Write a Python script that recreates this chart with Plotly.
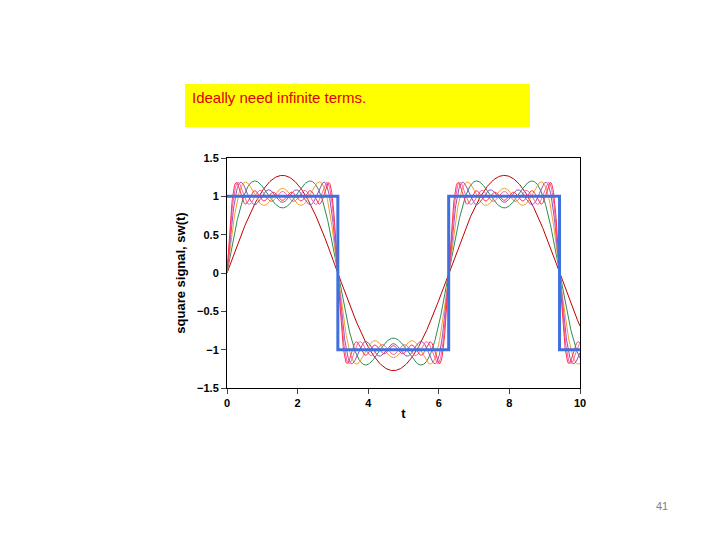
import numpy as np
import plotly.graph_objects as go

# square wave corners
sq_t = [0, 3.14, 3.14, 6.28, 6.28, 9.42, 9.42, 10]
sq_y = [1, 1, -1, -1, 1, 1, -1, -1]

# partial sums: highest odd harmonic in each curve and its colour
orders = [1, 3, 5, 7, 9, 11]
colors = ["#c00000", "#2e8b57", "#f0a030", "#9050c0", "#ff60a0", "#ff3050"]

t = np.linspace(0, 10, 800)

W, H = 704, 524  # page area inside the browser's body margin

fig = go.Figure()
for n_max, c in zip(orders, colors):
    y = sum(4 / np.pi * np.sin(n * t) / n for n in range(1, n_max + 1, 2))
    fig.add_trace(go.Scatter(x=t, y=y, mode="lines", line=dict(color=c, width=1)))

fig.add_trace(go.Scatter(x=sq_t, y=sq_y, mode="lines", line=dict(color="#4070e0", width=3)))

fig.update_layout(
    width=W, height=H, showlegend=False,
    paper_bgcolor="white", plot_bgcolor="white",
    margin=dict(l=0, r=0, t=0, b=0),
    font=dict(family="Liberation Sans", size=11, color="black"),
)
fig.update_xaxes(domain=[219 / W, 572 / W], range=[0, 10], dtick=2, automargin=False,
                 showline=True, mirror=True, linecolor="black", linewidth=1,
                 ticks="outside", showgrid=False, zeroline=False,
                 tickfont=dict(family="Liberation Sans", size=11, weight="bold"),
                 title=dict(text="<b>t</b>", standoff=0))
fig.update_yaxes(domain=[1 - 380 / H, 1 - 150 / H], range=[-1.5, 1.5], dtick=0.5, automargin=False,
                 showline=True, mirror=True, linecolor="black", linewidth=1,
                 ticks="outside", showgrid=False, zeroline=False,
                 tickfont=dict(family="Liberation Sans", size=11, weight="bold"),
                 title=dict(text="<b>square signal, sw(t)</b>", font=dict(size=13), standoff=8))

fig.add_shape(type="rect", xref="paper", yref="paper",
              x0=177 / W, x1=522 / W, y0=1 - 119 / H, y1=1 - 76 / H,
              fillcolor="#ffff00", line=dict(width=0))
fig.add_annotation(xref="paper", yref="paper", x=182 / W, y=1 - 89 / H,
                   text="Ideally need infinite terms.", showarrow=False,
                   xanchor="left", yanchor="middle",
                   font=dict(family="Liberation Sans", size=15, color="#e00000"))
fig.add_annotation(xref="paper", yref="paper", x=662 / W, y=1 - 506 / H,
                   text="41", showarrow=False,
                   font=dict(family="Liberation Sans", size=11, color="#808080"))

fig.write_html("out.html")
